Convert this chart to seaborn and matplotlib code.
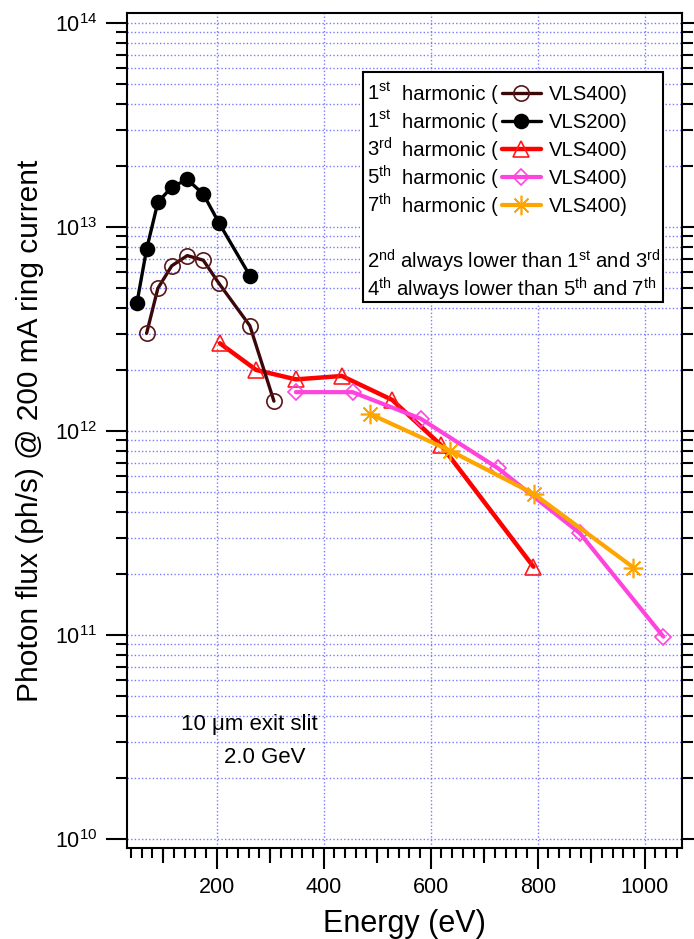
import numpy as np
import pandas as pd
import matplotlib
matplotlib.use("Agg")
import matplotlib.pyplot as plt
import seaborn as sns
from matplotlib.ticker import MultipleLocator, LogLocator, NullFormatter, FixedLocator
from matplotlib.patches import Rectangle

# ---------------- data ----------------
e_h1_vls400 = [69, 90, 116, 145, 175, 204, 262, 307]
f_h1_vls400 = [3.01e12, 5.0e12, 6.45e12, 7.24e12, 6.87e12, 5.3e12, 3.28e12, 1.40e12]
e_h1_vls200 = [51, 69, 90, 116, 145, 175, 204, 262]
f_h1_vls200 = [4.26e12, 7.78e12, 1.32e13, 1.57e13, 1.71e13, 1.45e13, 1.05e13, 5.77e12]
e_h3 = [206, 274, 348, 434, 528, 619, 792]
f_h3 = [2.69e12, 1.99e12, 1.79e12, 1.86e12, 1.42e12, 8.54e11, 2.16e11]
e_h5 = [348, 454, 581, 726, 879, 1035]
f_h5 = [1.55e12, 1.55e12, 1.15e12, 6.56e11, 3.15e11, 9.8e10]
e_h7 = [487, 636, 793, 979]
f_h7 = [1.21e12, 8.01e11, 4.91e11, 2.14e11]

legend_prefix = ["1$^{st}$", "1$^{st}$", "3$^{rd}$", "5$^{th}$", "7$^{th}$"]
legend_labels = ["VLS400)", "VLS200)", "VLS400)", "VLS400)", "VLS400)"]
note_lines = ["2$^{nd}$ always lower than 1$^{st}$ and 3$^{rd}$",
              "4$^{th}$ always lower than 5$^{th}$ and 7$^{th}$"]
x_ticks = [200, 400, 600, 800, 1000]

# ---------------- style ----------------
sns.set_theme(style="white")
plt.rcParams["font.family"] = ["Liberation Sans", "DejaVu Sans"]
plt.rcParams["mathtext.fontset"] = "custom"
plt.rcParams["mathtext.rm"] = "Liberation Sans"
plt.rcParams["mathtext.it"] = "Liberation Sans"
plt.rcParams["mathtext.default"] = "regular"
plt.rcParams["text.color"] = "black"
plt.rcParams["axes.labelcolor"] = "black"
plt.rcParams["xtick.color"] = "black"
plt.rcParams["ytick.color"] = "black"

W, H = 694, 939
fig = plt.figure(figsize=(W / 100, H / 100), dpi=100)
ax_l, ax_r, ax_t, ax_b = 126.7, 682.0, 13.0, 847.7
ax = fig.add_axes([ax_l / W, 1 - ax_b / H, (ax_r - ax_l) / W, (ax_b - ax_t) / H])
ax.set_yscale("log")

def series(x, y, color, marker, ms, mfc, mec, lw, z, mew=1.2):
    sns.lineplot(x=x, y=y, ax=ax, color=color, lw=lw, marker=marker,
                 markersize=ms, markerfacecolor=mfc, markeredgecolor=mec,
                 markeredgewidth=mew, zorder=z)
    return ax.lines[-1]

l3 = series(e_h3, f_h3, "#ff0000", "^", 11, "none", "#ff1a1a", 3.2, 2.2)
l5 = series(e_h5, f_h5, "#ff44dd", "D", 8.5, "none", "#ff44dd", 3.0, 2.4)
l7 = series(e_h7, f_h7, "#ffa500", (8, 2, 0), 14, "none", "#ffa500", 3.0, 2.6)
l1 = series(e_h1_vls400, f_h1_vls400, "#3a0808", "o", 11, "none", "#5a1616", 2.4, 2.8)
l1b = series(e_h1_vls200, f_h1_vls200, "#000000", "o", 10, "#000000", "#000000", 2.4, 3.0)

ax.set_xlim(31.8, 1069.7)
ax.set_ylim(10 ** 9.957, 10 ** 14.049)

# ticks
ax.xaxis.set_major_locator(FixedLocator(x_ticks))
ax.xaxis.set_minor_locator(MultipleLocator(20))
ax.yaxis.set_major_locator(LogLocator(base=10, numticks=10))
ax.yaxis.set_minor_locator(LogLocator(base=10, subs=np.arange(2, 10), numticks=20))
ax.yaxis.set_minor_formatter(NullFormatter())
ax.tick_params(axis="both", which="major", direction="out", length=15, width=1.5,
               labelsize=15.5, pad=6)
ax.tick_params(axis="both", which="minor", direction="out", length=8, width=1.5)
ax.tick_params(axis="y", which="both", left=True, right=True)
ax.tick_params(axis="x", which="both", bottom=True, top=False)
ax.tick_params(axis="x", which="minor", length=7)

sec = ax.secondary_xaxis("bottom")
sec.set_xticks([100, 300, 500, 700, 900])
sec.tick_params(axis="x", length=11, width=1.5, labelbottom=False, direction="out")
sec.spines["bottom"].set_visible(False)

for s in ax.spines.values():
    s.set_color("black")
    s.set_linewidth(1.5)
    s.set_visible(True)

# grid
grid_kw = dict(color="#7a7aff", linestyle=(0, (1, 1.6)), linewidth=1.0)
ax.yaxis.grid(True, which="both", **grid_kw)
ax.xaxis.grid(True, which="major", **grid_kw)
ax.set_axisbelow(True)

ax.set_xlabel("Energy (eV)", fontsize=22, labelpad=8)
ax.set_ylabel("Photon flux (ph/s) @ 200 mA ring current", fontsize=21.5, labelpad=8)

# annotation
ax.text(262, 10 ** 10.559, "10 μm exit slit", fontsize=16, ha="center", va="center")
ax.text(290, 10 ** 10.397, "2.0 GeV", fontsize=16, ha="center", va="center")

# legend box
def ax_x(px):
    return (px - ax_l) / (ax_r - ax_l)

def ax_y(py):
    return (ax_b - py) / (ax_b - ax_t)

box = Rectangle((ax_x(363), ax_y(302)), ax_x(663) - ax_x(363), ax_y(72) - ax_y(302),
                transform=ax.transAxes, facecolor="white", edgecolor="black",
                linewidth=1.5, zorder=4)
ax.add_patch(box)

leg = ax.legend([l1, l1b, l3, l5, l7], legend_labels, loc="upper left",
                bbox_to_anchor=(ax_x(502), ax_y(85)), frameon=False, borderpad=0,
                borderaxespad=0, handlelength=1.9, handletextpad=0.4,
                labelspacing=0.45, fontsize=14.6)
leg.set_zorder(5)

fig.canvas.draw()
for t, p in zip(leg.get_texts(), legend_prefix):
    xd, yd = t.get_transform().transform(t.get_position())
    yf = fig.transFigure.inverted().transform((xd, yd))[1]
    fig.text(367 / W, yf, p, fontsize=14.6, ha="left", va="baseline", zorder=6)
    fig.text(498 / W, yf, "harmonic (", fontsize=14.6, ha="right", va="baseline", zorder=6)

ax.text(ax_x(367), ax_y(261), note_lines[0], transform=ax.transAxes, fontsize=14.6,
        ha="left", va="center", zorder=6)
ax.text(ax_x(367), ax_y(289), note_lines[1], transform=ax.transAxes, fontsize=14.6,
        ha="left", va="center", zorder=6)

fig.savefig("out.png", dpi=100)
